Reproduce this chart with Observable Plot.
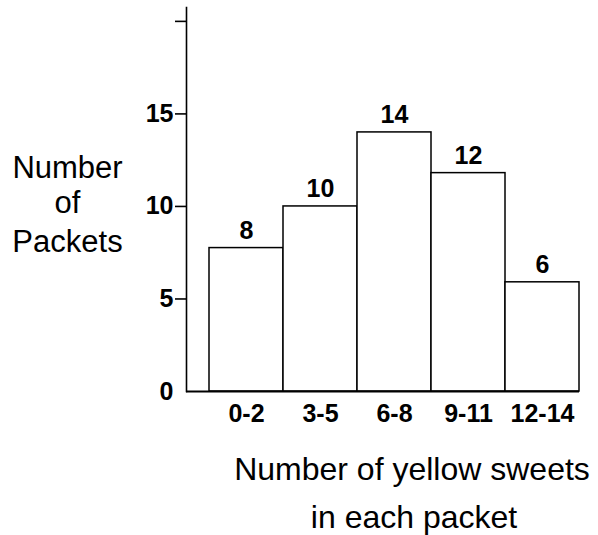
<!DOCTYPE html>
<html>
<head>
<meta charset="utf-8">
<script src="https://cdn.jsdelivr.net/npm/d3@7"></script>
<script src="https://cdn.jsdelivr.net/npm/@observablehq/plot@0.6"></script>
<style>
  html, body { margin: 0; padding: 0; background: white; }
</style>
</head>
<body>
<div id="chart"></div>
<script>
const categories = ["0-2", "3-5", "6-8", "9-11", "12-14"];
const barHeights = [7.75, 10, 14, 11.8, 5.9];
const barLabels = ["8", "10", "14", "12", "6"];
const yTickValues = [0, 5, 10, 15, 20];
const yTickLabels = ["0", "5", "10", "15", ""];
const yMax = 20.75;
const yTitle = ["Number", "of", "Packets"];
const xTitle = ["Number of yellow sweets", "in each packet"];

const data = categories.map((c, i) => ({cat: c, h: barHeights[i], label: barLabels[i]}));

const font = "'Liberation Sans', Arial, Helvetica, sans-serif";

const chart = Plot.plot({
  width: 598,
  height: 535,
  marginLeft: 186,
  marginRight: 19,
  marginTop: 7,
  marginBottom: 144,
  x: {domain: categories, paddingInner: 0, paddingOuter: 0.134, align: 1, label: null},
  y: {domain: [0, yMax], label: null},
  style: {fontFamily: font, color: "black", background: "white", overflow: "visible"},
  marks: [
    Plot.barY(data, {x: "cat", y: "h", fill: "white", stroke: "black", strokeWidth: 1.5}),
    Plot.ruleY([0], {stroke: "black", strokeWidth: 2}),
    Plot.frame({anchor: "left", stroke: "black", strokeWidth: 1.6}),
    Plot.axisY({ticks: yTickValues.filter(v => v > 0), tickSize: 11, tickFormat: () => "", strokeWidth: 1.6, label: null}),
    Plot.axisY({ticks: yTickValues, tickSize: 0, tickPadding: 13,
      tickFormat: d => yTickLabels[yTickValues.indexOf(d)],
      fontSize: 25, fontWeight: "bold", label: null}),
    Plot.axisX({tickSize: 0, tickPadding: 13, fontSize: 25, fontWeight: "bold", label: null}),
    Plot.text(data, {x: "cat", y: "h", text: "label", dy: -9, lineAnchor: "bottom",
      fontSize: 25, fontWeight: "bold", fill: "black"}),
    Plot.text([yTitle[0]], {frameAnchor: "left", dx: -119, dy: -22, lineAnchor: "bottom", textAnchor: "middle", fontSize: 31, fill: "black"}),
    Plot.text([yTitle[1]], {frameAnchor: "left", dx: -119, dy: 13, lineAnchor: "bottom", textAnchor: "middle", fontSize: 31, fill: "black"}),
    Plot.text([yTitle[2]], {frameAnchor: "left", dx: -119, dy: 52, lineAnchor: "bottom", textAnchor: "middle", fontSize: 31, fill: "black"}),
    Plot.text([xTitle[0]], {frameAnchor: "bottom", dx: 29, dy: 88, lineAnchor: "bottom", textAnchor: "middle", fontSize: 32, fill: "black"}),
    Plot.text([xTitle[1]], {frameAnchor: "bottom", dx: 31, dy: 136, lineAnchor: "bottom", textAnchor: "middle", fontSize: 32, fill: "black"})
  ]
});
document.getElementById("chart").appendChild(chart);
</script>
</body>
</html>
